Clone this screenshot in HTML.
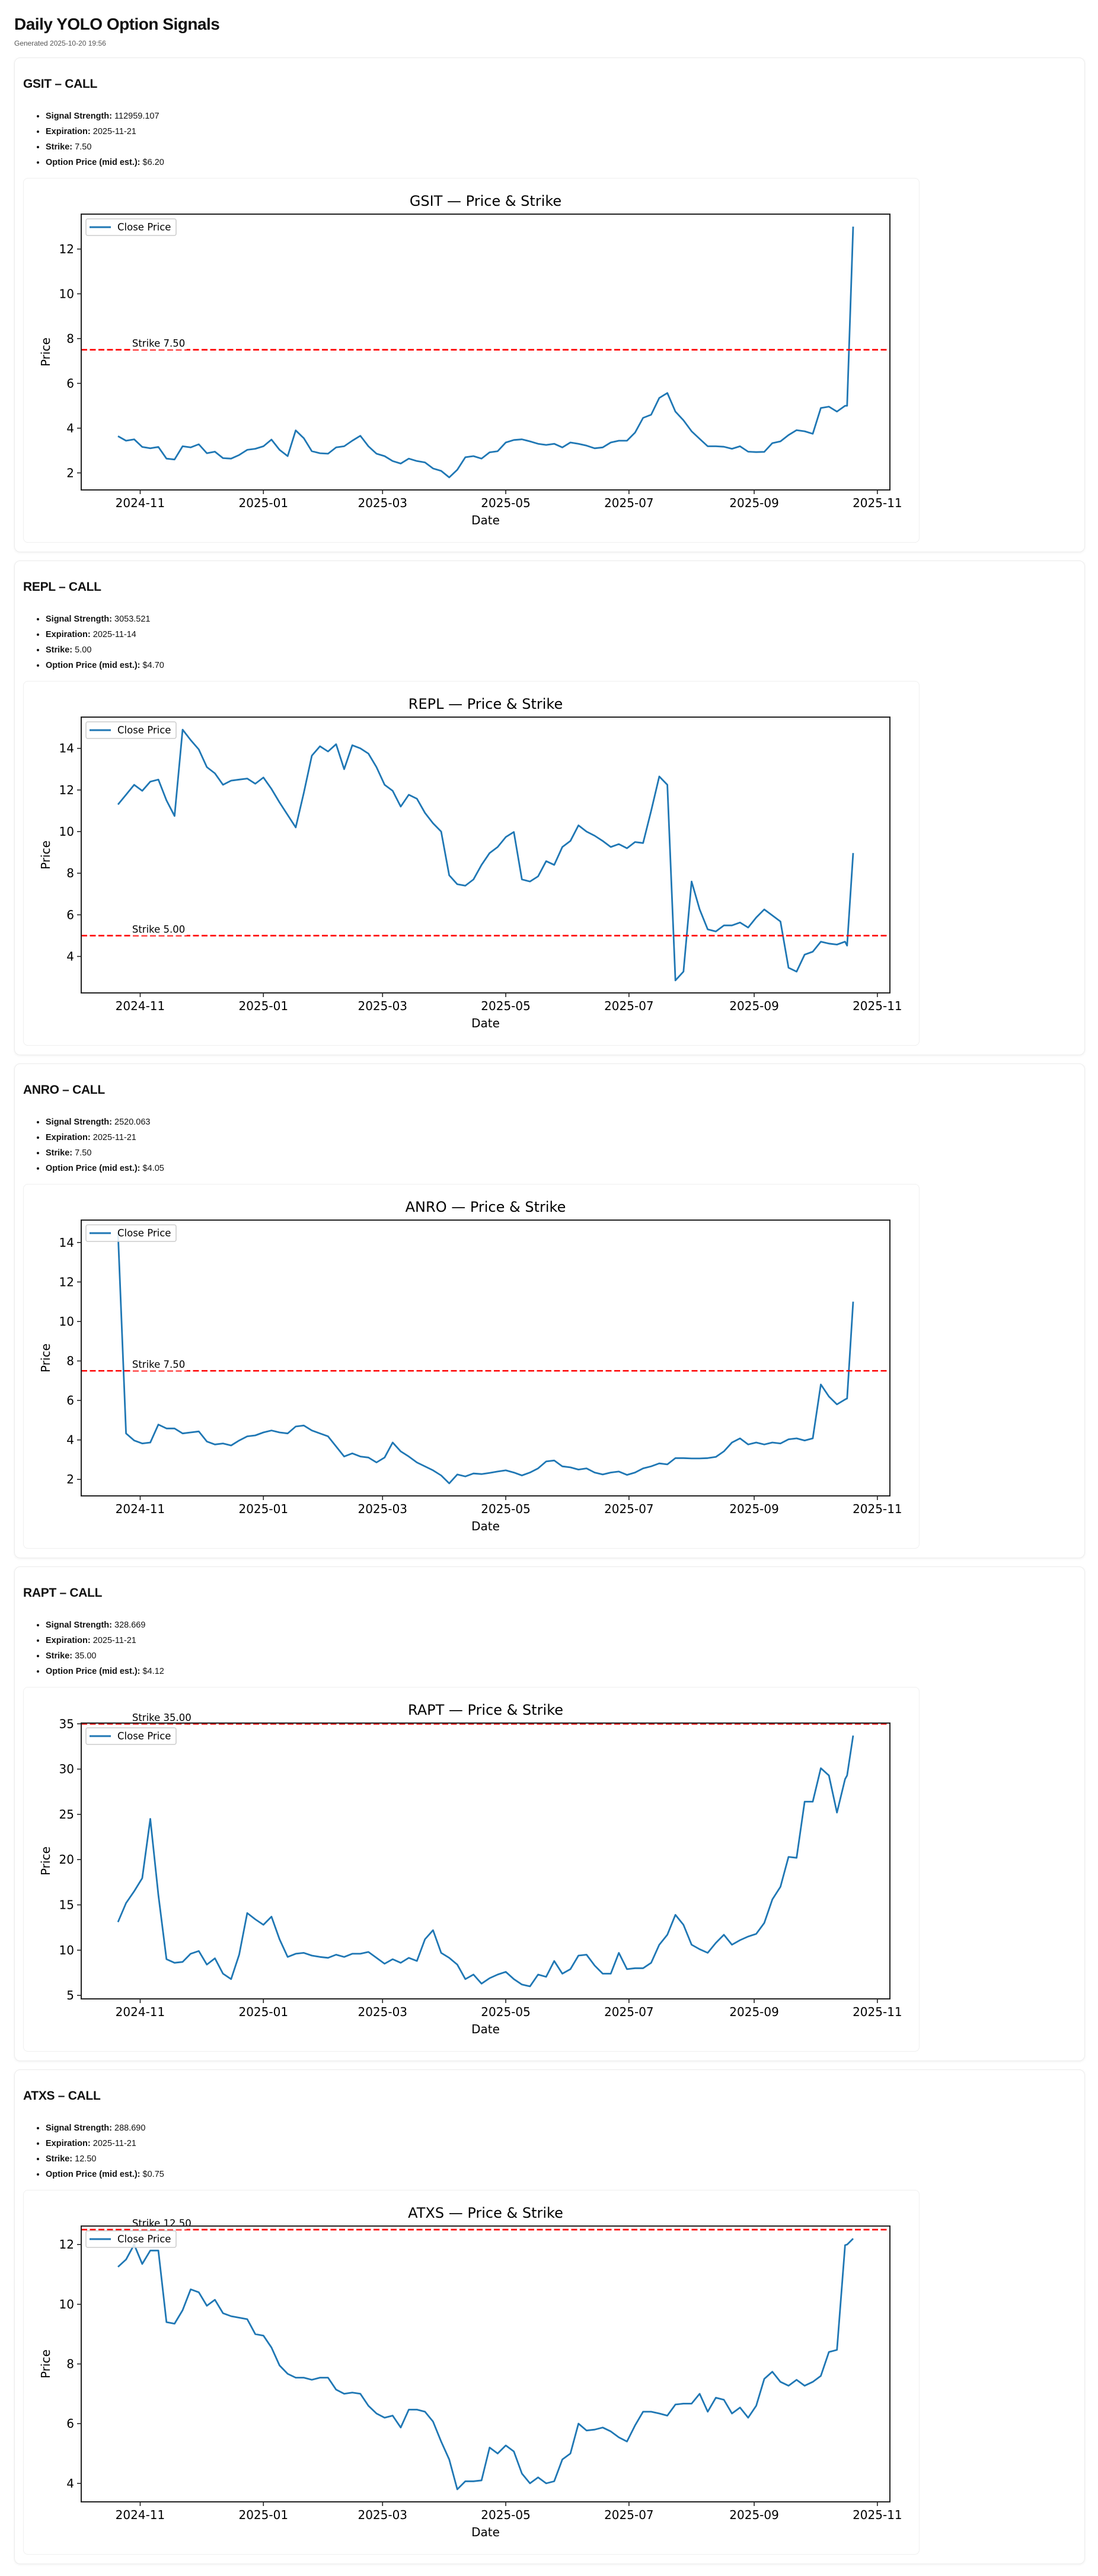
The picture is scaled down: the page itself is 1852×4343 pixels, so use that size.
<!DOCTYPE html>
<html><head><meta charset="utf-8"><title>Daily YOLO Option Signals</title>
<style>
html,body{margin:0;padding:0;background:#fff;}
body{width:1852px;height:4343px;position:relative;overflow:hidden;font-family:"Liberation Sans",Arial,sans-serif;color:#111;}
h1{position:absolute;left:24px;top:24px;margin:0;font-size:28px;font-weight:bold;line-height:34px;letter-spacing:-0.5px;}
.gen{position:absolute;left:24px;top:66px;font-size:12px;color:#555;}
.card{position:absolute;left:24px;width:1804px;height:832px;border:1px solid #ececec;border-radius:10px;box-shadow:0 1px 4px rgba(0,0,0,0.06);background:#fff;}
.card h2{position:absolute;left:14px;top:31px;margin:0;font-size:21px;font-weight:bold;line-height:26px;letter-spacing:-0.3px;}
.card ul{position:absolute;left:30px;top:85px;margin:0;padding:0 0 0 22px;font-size:14.5px;line-height:26px;}
.card li{margin:0;}
.box{position:absolute;left:14px;top:202px;width:1510px;height:613px;border:1px solid #efefef;border-radius:8px;background:#fff;}
.box svg{position:absolute;left:0;top:0;}
</style></head>
<body>
<h1>Daily YOLO Option Signals</h1>
<div class="gen">Generated 2025-10-20 19:56</div>
<div id="cards"></div>
<script>
const dates = ["2024-10-21","2024-10-25","2024-10-29","2024-11-02","2024-11-06","2024-11-10","2024-11-14","2024-11-18","2024-11-22","2024-11-26","2024-11-30","2024-12-04","2024-12-08","2024-12-12","2024-12-16","2024-12-20","2024-12-24","2024-12-28","2025-01-01","2025-01-05","2025-01-09","2025-01-13","2025-01-17","2025-01-21","2025-01-25","2025-01-29","2025-02-02","2025-02-06","2025-02-10","2025-02-14","2025-02-18","2025-02-22","2025-02-26","2025-03-02","2025-03-06","2025-03-10","2025-03-14","2025-03-18","2025-03-22","2025-03-26","2025-03-30","2025-04-03","2025-04-07","2025-04-11","2025-04-15","2025-04-19","2025-04-23","2025-04-27","2025-05-01","2025-05-05","2025-05-09","2025-05-13","2025-05-17","2025-05-21","2025-05-25","2025-05-29","2025-06-02","2025-06-06","2025-06-10","2025-06-14","2025-06-18","2025-06-22","2025-06-26","2025-06-30","2025-07-04","2025-07-08","2025-07-12","2025-07-16","2025-07-20","2025-07-24","2025-07-28","2025-08-01","2025-08-05","2025-08-09","2025-08-13","2025-08-17","2025-08-21","2025-08-25","2025-08-29","2025-09-02","2025-09-06","2025-09-10","2025-09-14","2025-09-18","2025-09-22","2025-09-26","2025-09-30","2025-10-04","2025-10-08","2025-10-12","2025-10-16","2025-10-17","2025-10-20"];
const gsitClose = [3.64,3.44,3.5,3.16,3.1,3.16,2.64,2.6,3.19,3.14,3.28,2.88,2.95,2.66,2.64,2.8,3.03,3.08,3.19,3.49,3.03,2.75,3.9,3.55,2.97,2.88,2.86,3.14,3.19,3.44,3.66,3.19,2.86,2.75,2.53,2.42,2.64,2.53,2.47,2.2,2.09,1.8,2.14,2.7,2.75,2.64,2.92,2.97,3.36,3.47,3.5,3.41,3.3,3.25,3.3,3.14,3.36,3.3,3.22,3.1,3.14,3.36,3.44,3.44,3.8,4.46,4.6,5.35,5.57,4.74,4.35,3.86,3.52,3.19,3.19,3.17,3.08,3.19,2.95,2.93,2.94,3.33,3.41,3.69,3.91,3.86,3.75,4.9,4.96,4.74,5.0,5.0,13.0];
const replClose = [11.3,11.77,12.25,11.96,12.4,12.5,11.5,10.75,14.9,14.4,13.95,13.1,12.8,12.25,12.45,12.5,12.55,12.3,12.6,12.05,11.4,10.8,10.2,11.86,13.65,14.1,13.85,14.2,13.0,14.15,14.0,13.75,13.1,12.25,11.96,11.2,11.77,11.58,10.9,10.4,10.0,7.9,7.47,7.4,7.7,8.4,8.97,9.26,9.74,9.98,7.7,7.6,7.85,8.58,8.4,9.26,9.55,10.3,10.0,9.8,9.55,9.26,9.4,9.2,9.5,9.45,11.0,12.65,12.25,2.85,3.27,7.6,6.26,5.3,5.2,5.49,5.49,5.63,5.39,5.87,6.26,5.97,5.68,3.46,3.27,4.09,4.23,4.71,4.62,4.57,4.71,4.52,8.97];
const anroClose = [14.5,4.33,3.97,3.82,3.87,4.78,4.58,4.58,4.33,4.38,4.43,3.92,3.77,3.82,3.72,3.97,4.18,4.23,4.38,4.48,4.38,4.33,4.68,4.73,4.48,4.33,4.18,3.67,3.16,3.32,3.16,3.11,2.86,3.11,3.87,3.42,3.16,2.86,2.66,2.46,2.2,1.8,2.25,2.15,2.3,2.27,2.33,2.4,2.46,2.35,2.2,2.35,2.56,2.91,2.96,2.66,2.61,2.5,2.56,2.35,2.25,2.35,2.4,2.23,2.35,2.56,2.66,2.81,2.76,3.08,3.08,3.06,3.06,3.08,3.14,3.42,3.87,4.08,3.77,3.87,3.77,3.87,3.82,4.03,4.08,3.97,4.08,6.81,6.2,5.8,6.05,6.1,11.0];
const raptClose = [13.1,15.2,16.5,17.95,24.5,16.1,9.0,8.6,8.7,9.6,9.9,8.4,9.1,7.4,6.8,9.5,14.1,13.4,12.8,13.7,11.2,9.25,9.6,9.7,9.4,9.25,9.15,9.5,9.25,9.6,9.6,9.8,9.15,8.5,9.0,8.6,9.15,8.8,11.2,12.2,9.7,9.15,8.4,6.8,7.3,6.3,6.9,7.3,7.6,6.8,6.2,6.0,7.3,7.05,8.8,7.4,7.9,9.4,9.5,8.3,7.4,7.4,9.7,7.9,8.0,8.0,8.6,10.6,11.7,13.9,12.8,10.6,10.1,9.7,10.8,11.7,10.6,11.1,11.5,11.8,13.0,15.6,17.0,20.3,20.2,26.4,26.4,30.1,29.3,25.2,28.9,29.3,33.7];
const atxsClose = [11.25,11.5,12.0,11.35,11.8,11.8,9.4,9.35,9.8,10.5,10.4,9.95,10.15,9.7,9.6,9.55,9.5,9.0,8.95,8.55,7.95,7.67,7.54,7.54,7.47,7.54,7.54,7.14,7.0,7.04,7.0,6.6,6.34,6.2,6.27,5.87,6.47,6.47,6.4,6.07,5.4,4.8,3.8,4.07,4.07,4.1,5.2,5.0,5.27,5.07,4.33,4.0,4.2,4.0,4.07,4.8,5.0,6.0,5.77,5.8,5.87,5.74,5.54,5.4,5.94,6.4,6.4,6.34,6.27,6.64,6.67,6.67,7.0,6.4,6.87,6.8,6.34,6.54,6.2,6.6,7.5,7.74,7.4,7.27,7.47,7.27,7.4,7.6,8.4,8.47,11.98,12.0,12.2];
const tickers = ["GSIT","REPL","ANRO","RAPT","ATXS"];
const strikes = [7.5,5.0,7.5,35.0,12.5];
const signalStrengths = ["112959.107","3053.521","2520.063","328.669","288.690"];
const expirations = ["2025-11-21","2025-11-14","2025-11-21","2025-11-21","2025-11-21"];
const optionPrices = ["$6.20","$4.70","$4.05","$4.12","$0.75"];
const xTickLabels = ["2024-11","2025-01","2025-03","2025-05","2025-07","2025-09","2025-11"];
const seriesList = [gsitClose, replClose, anroClose, raptClose, atxsClose];

const NS = "http://www.w3.org/2000/svg";
const W = 1511, H = 613;
const PL = 97, PR = 1461, PT = 60, PB = 525;
const DAY = 86400000;
function t(s){ return Date.parse(s + "T00:00:00Z"); }
function mk(tag, attrs, parent){
  const e = document.createElementNS(NS, tag);
  for (const k in attrs) e.setAttribute(k, attrs[k]);
  if (parent) parent.appendChild(e);
  return e;
}
const FONT = "DejaVu Sans, Liberation Sans, sans-serif";

function niceTicks(lo, hi){
  const steps = [1,2,2.5,5];
  for (let p = -2; p < 4; p++) {
    for (const s of steps) {
      const st = s * Math.pow(10, p);
      const a = Math.ceil(lo / st), b = Math.floor(hi / st);
      if (b - a + 1 <= 8) { const r = []; for (let i = a; i <= b; i++) r.push(+(i*st).toFixed(6)); return r; }
    }
  }
  return [];
}

const cardsEl = document.getElementById("cards");
for (let c = 0; c < tickers.length; c++) {
  const card = document.createElement("div");
  card.className = "card";
  card.style.top = (97 + 848 * c) + "px";
  
  
  const h2 = document.createElement("h2");
  h2.textContent = tickers[c] + " \u2013 CALL";
  
  
  card.appendChild(h2);
  const ul = document.createElement("ul");
  
  
  const items = [["Signal Strength:", signalStrengths[c]],["Expiration:", expirations[c]],["Strike:", strikes[c].toFixed(2)],["Option Price (mid est.):", optionPrices[c]]];
  const names = ["signal-strength","expiration","strike","option-price"];
  items.forEach((it, i) => {
    const li = document.createElement("li");
    li.innerHTML = "<b>" + it[0] + "</b> " + it[1];
    
    
    ul.appendChild(li);
  });
  card.appendChild(ul);
  const box = document.createElement("div");
  box.className = "box";
  
  
  card.appendChild(box);
  cardsEl.appendChild(card);

  const vals = seriesList[c];
  const svg = mk("svg", {width: W, height: H, viewBox: "0 0 " + W + " " + H}, box);
  const x0 = t(dates[0]), x1 = t(dates[dates.length-1]);
  const xm = (x1 - x0) * 0.05;
  const xlo = x0 - xm, xhi = x1 + xm;
  let vmin = Math.min(...vals), vmax = Math.max(...vals);
  const ym = (vmax - vmin) * 0.05;
  const ylo = vmin - ym, yhi = vmax + ym;
  const xs = d => PL + (t(d) - xlo) / (xhi - xlo) * (PR - PL);
  const xsT = ms => PL + (ms - xlo) / (xhi - xlo) * (PR - PL);
  const ys = v => PB - (v - ylo) / (yhi - ylo) * (PB - PT);

  const clipId = "clip" + c;
  const defs = mk("defs", {}, svg);
  const cp = mk("clipPath", {id: clipId}, defs);
  mk("rect", {x: PL, y: PT, width: PR-PL, height: PB-PT}, cp);

  const title = mk("text", {x: (PL+PR)/2, y: 38, "text-anchor": "middle", "dominant-baseline": "central", "font-family": FONT, "font-size": 24, fill: "#000"}, svg);
  title.textContent = tickers[c] + " \u2014 Price & Strike";
  
  

  // close price line
  let dpath = "";
  vals.forEach((v, i) => { dpath += (i ? "L" : "M") + xs(dates[i]).toFixed(1) + "," + ys(v).toFixed(1); });
  const line = mk("path", {d: dpath, fill: "none", stroke: "#1f77b4", "stroke-width": 2.8, "stroke-linejoin": "round", "clip-path": "url(#" + clipId + ")"}, svg);
  
  

  // strike line
  const sy = ys(strikes[c]);
  const sl = mk("line", {x1: PL, x2: PR, y1: sy, y2: sy, stroke: "#ff0000", "stroke-width": 2.6, "stroke-dasharray": "10,4.5", "clip-path": "url(#" + clipId + ")"}, svg);
  
  
  const stx = xsT(x0 + 7 * DAY);
  mk("rect", {x: stx - 2, y: sy - 20, width: 94, height: 20, fill: "#fff", opacity: 0.6}, svg);
  const st = mk("text", {x: stx, y: sy - 5, "font-family": FONT, "font-size": 16.5, fill: "#000"}, svg);
  st.textContent = "Strike " + strikes[c].toFixed(2);
  
  

  // axes frame
  const frame = mk("rect", {x: PL, y: PT, width: PR-PL, height: PB-PT, fill: "none", stroke: "#222", "stroke-width": 2}, svg);
  
  

  // y ticks
  niceTicks(ylo, yhi).forEach(v => {
    const y = ys(v);
    mk("line", {x1: PL-7, x2: PL, y1: y, y2: y, stroke: "#222", "stroke-width": 1.6}, svg);
    const tl = mk("text", {x: PL-12, y: y, "text-anchor": "end", "dominant-baseline": "central", "font-family": FONT, "font-size": 20, fill: "#000"}, svg);
    tl.textContent = String(v);
    
    
  });
  // x ticks
  xTickLabels.forEach(lbl => {
    const x = xs(lbl + "-01");
    mk("line", {x1: x, x2: x, y1: PB, y2: PB+7, stroke: "#222", "stroke-width": 1.6}, svg);
    const tl = mk("text", {x: x, y: PB+22, "text-anchor": "middle", "dominant-baseline": "central", "font-family": FONT, "font-size": 20, fill: "#000"}, svg);
    tl.textContent = lbl;
    
    
  });
  const xl = mk("text", {x: (PL+PR)/2, y: PB+51, "text-anchor": "middle", "dominant-baseline": "central", "font-family": FONT, "font-size": 20, fill: "#000"}, svg);
  xl.textContent = "Date";
  
  
  const yl = mk("text", {x: 37, y: (PT+PB)/2, "text-anchor": "middle", "dominant-baseline": "central", "font-family": FONT, "font-size": 20, fill: "#000", transform: "rotate(-90 37 " + ((PT+PB)/2) + ")"}, svg);
  yl.textContent = "Price";
  
  

  // legend
  const lg = mk("g", {}, svg);
  
  
  mk("rect", {x: PL+8, y: PT+8, width: 152, height: 28, rx: 3, fill: "#fff", "fill-opacity": 0.85, stroke: "#cccccc", "stroke-width": 1.5}, lg);
  mk("line", {x1: PL+14, x2: PL+50, y1: PT+22, y2: PT+22, stroke: "#1f77b4", "stroke-width": 3}, lg);
  const lt = mk("text", {x: PL+61, y: PT+22, "dominant-baseline": "central", "font-family": FONT, "font-size": 16.5, fill: "#000"}, lg);
  lt.textContent = "Close Price";
  
  
}
</script>
</body></html>
